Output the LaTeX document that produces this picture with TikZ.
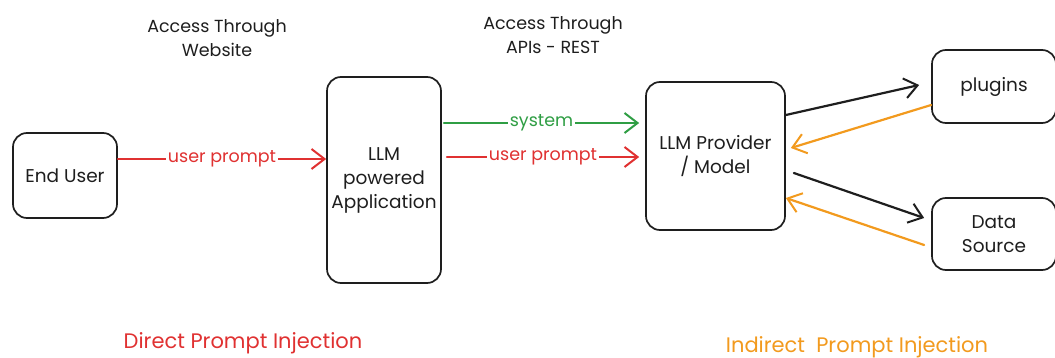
\documentclass[tikz,border=0pt]{standalone}
\usepackage{fontspec}
\setmainfont{Poppins}
\usetikzlibrary{arrows.meta,calc}
\definecolor{inkblack}{HTML}{1E1E1E}
\definecolor{inkred}{HTML}{E03131}
\definecolor{inkgreen}{HTML}{2F9E44}
\definecolor{inkorange}{HTML}{F29A1E}
\newcommand\boxfont{\fontsize{18.5}{24}\selectfont}
\newcommand\tagfont{\fontsize{17.5}{20}\selectfont}
\newcommand\headfont{\fontsize{17.5}{24}\selectfont}
\newcommand\notefont{\fontsize{21}{24}\selectfont}
\begin{document}
\begin{tikzpicture}[x=1pt,y=-1pt,
  box/.style={draw=inkblack, line width=1.7pt, rounded corners=14pt,
    align=center, font=\boxfont, text=inkblack, inner sep=0pt},
  link/.style={line width=2.2pt, line cap=round,
    -{Straight Barb[length=13pt,width=20pt,line width=2pt]}},
  tag/.style={fill=white, inner sep=1.5pt, font=\tagfont},
  head/.style={align=center, font=\headfont, text=inkblack},
  note/.style={font=\notefont},
]
\useasboundingbox (0,0) rectangle (1055,358);

% boxes
\node[box, minimum width=104pt, minimum height=85pt] (enduser) at (65,175.5) {End User};
\node[box, minimum width=114pt, minimum height=206pt] (app) at (384,180) {LLM\\powered\\Application};
\node[box, minimum width=139pt, minimum height=148pt] (provider) at (715.5,156) {LLM Provider\\/ Model};
\node[box, minimum width=124pt, minimum height=73pt] (plugins) at (994,86.5) {plugins};
\node[box, minimum width=124pt, minimum height=72pt] (datasource) at (994,234) {Data\\Source};

% headings
\node[head] (web) at (217,38) {Access Through\\Website};
\node[head] (api) at (553,35) {Access Through\\APIs - REST};

% user to application
\draw[link, color=inkred] ([yshift=16.5pt]enduser.east) -- node[tag]{user prompt} ([yshift=21pt]app.west);

% application to provider
\draw[link, color=inkgreen] ([xshift=2pt,yshift=57pt]app.east) -- node[tag]{system} ([xshift=-6pt,yshift=33pt]provider.west);
\draw[link, color=inkred] ([xshift=5pt,yshift=23pt]app.east) -- node[tag]{user prompt} ([xshift=-6pt,yshift=-1pt]provider.west);

% provider and tools
\draw[link, color=inkblack] ([yshift=41pt]provider.east) -- ([xshift=-12pt,yshift=1.5pt]plugins.west);
\draw[link, color=inkorange] ([yshift=-18.5pt]plugins.west) -- ([xshift=5pt,yshift=8pt]provider.east);
\draw[link, color=inkblack] ([xshift=8pt,yshift=-17pt]provider.east) -- ([xshift=-7pt,yshift=16pt]datasource.west);
\draw[link, color=inkorange] ([xshift=-7pt,yshift=-11pt]datasource.west) -- ([yshift=-42pt]provider.east);

% captions
\node[note, text=inkred] (direct) at (243,343) {Direct Prompt Injection};
\node[note, text=inkorange] (indirect) at (857,347) {Indirect\ \ Prompt Injection};
\end{tikzpicture}
\end{document}
